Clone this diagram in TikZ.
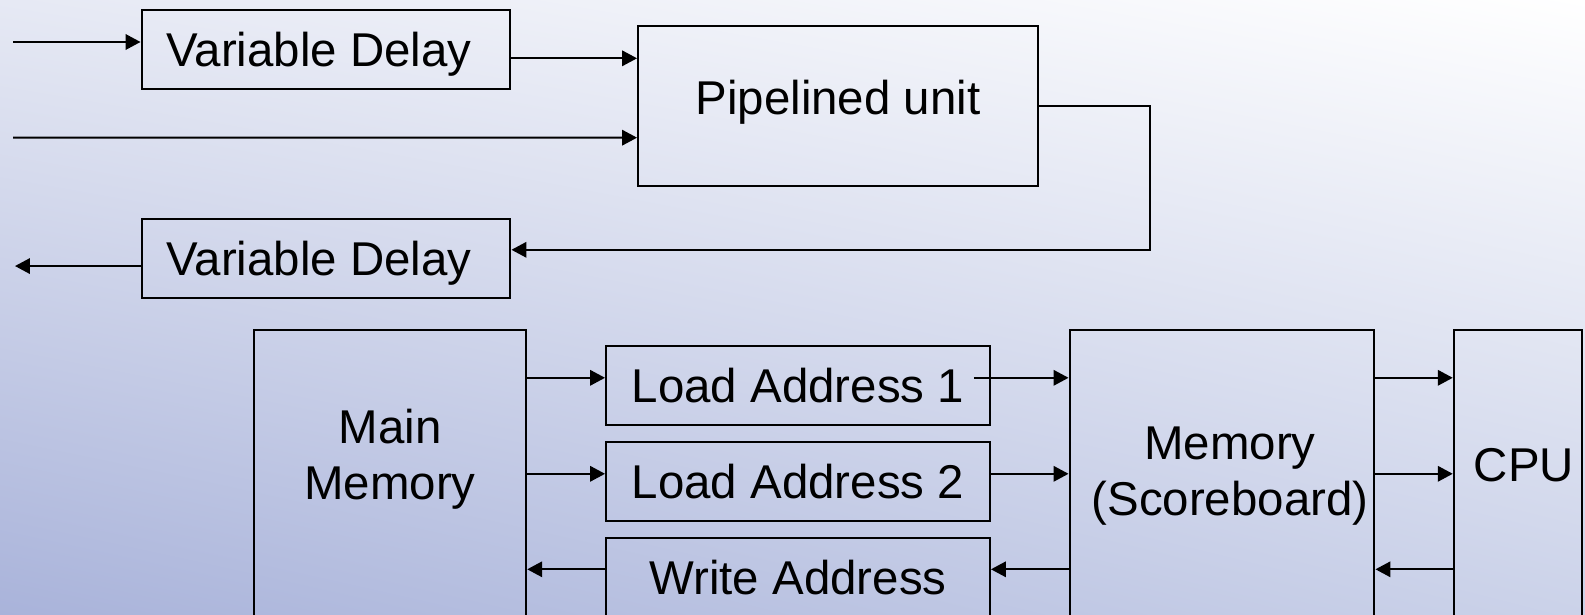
\documentclass[tikz,border=0pt]{standalone}
\usepackage{fontspec}
\setmainfont{Liberation Sans}
\usepackage{xcolor}
\usetikzlibrary{positioning,calc,arrows.meta,shadings}

\definecolor{bgLL}{HTML}{A9B3DA}
\definecolor{bgUL}{HTML}{E6E9F4}
\definecolor{bgLR}{HTML}{CBD2E9}

\begin{document}
\begin{tikzpicture}[
  x=0.02cm, y=-0.02cm,
  box/.style={draw, line width=0.04cm, inner sep=0pt, align=center,
    font=\fontsize{27}{32}\selectfont, text depth=0pt},
  arr/.style={-{Triangle[length=0.3cm,width=0.31cm]}, line width=0.04cm}
]
% ---- background ----
\shade[upper left=bgUL, upper right=white, lower left=bgLL, lower right=bgLR]
  (0,0) rectangle (1585,615);
\useasboundingbox (0,0) rectangle (1585,615);

% ---- pipeline (top) ----
\node[box, minimum width=7.38cm, minimum height=1.58cm] (vdin)
  at (326,49.5) {Variable Delay\hspace*{0.28cm}};
\node[box, minimum width=8.0cm, minimum height=3.2cm, text depth=0.35cm]
  (pipe) at (838,105.7) {Pipelined unit};
\node[box, minimum width=7.38cm, minimum height=1.58cm] (vdout)
  at (326,258.3) {Variable Delay\hspace*{0.28cm}};

\coordinate (inA) at (13,42);
\coordinate (inB) at (13,137.7);
\coordinate (outA) at (15,0);
\coordinate (loop) at (1150,0);
\coordinate (pinA) at ([yshift=0.948cm]pipe.west);
\coordinate (pinB) at ([yshift=-0.64cm]pipe.west);
\coordinate (vin) at ([yshift=0.17cm]vdout.east);
\coordinate (vout) at ([yshift=-0.155cm]vdout.west);

\draw[arr] (inA) -- (inA -| vdin.west);
\draw[arr] (vdin.east |- pinA) -- (pinA);
\draw[arr] (inB) -- (pinB);
\draw[arr] (pipe.east) -- (pipe.east -| loop) |- (vin);
\draw[arr] (vout) -- (vout -| outA);

% ---- memory (bottom) ----
\node[box, minimum width=5.45cm, minimum height=6.2cm, text depth=1.22cm]
  (mainmem) at (390,485) {Main\\Memory};
\node[box, minimum width=7.68cm, minimum height=1.58cm] (ldA)
  at (798,385.3) {Load Address 1};
\node[box, minimum width=7.68cm, minimum height=1.58cm] (ldB)
  at (798,481.3) {Load Address 2};
\node[box, minimum width=7.68cm, minimum height=1.58cm] (wraddr)
  at (798,577.3) {Write Address};
\node[box, minimum width=6.1cm, minimum height=6.2cm, text depth=0.55cm]
  (score) at (1222,485)
  {\hspace*{0.32cm}Memory\\\hspace*{0.32cm}(Scoreboard)};
\node[box, minimum width=2.57cm, minimum height=6.2cm, text depth=0.81cm]
  (cpu) at (1518,485) {\hspace*{0.24cm}CPU};

\coordinate (rA) at ([yshift=0.15cm]ldA.center);
\coordinate (rB) at ([yshift=0.15cm]ldB.center);
\coordinate (rC) at ([yshift=0.16cm]wraddr.center);

\draw[arr] (mainmem.east |- rA) -- (ldA.west |- rA);
\draw[arr] (mainmem.east |- rB) -- (ldB.west |- rB);
\draw[arr] (wraddr.west |- rC) -- (mainmem.east |- rC);

\draw[arr] ($(ldA.east |- rA)+(-17,0)$) -- (score.west |- rA);
\draw[arr] (ldB.east |- rB) -- (score.west |- rB);
\draw[arr] (score.west |- rC) -- (wraddr.east |- rC);

\draw[arr] (score.east |- rA) -- (cpu.west |- rA);
\draw[arr] (score.east |- rB) -- (cpu.west |- rB);
\draw[arr] (cpu.west |- rC) -- (score.east |- rC);
\end{tikzpicture}
\end{document}
